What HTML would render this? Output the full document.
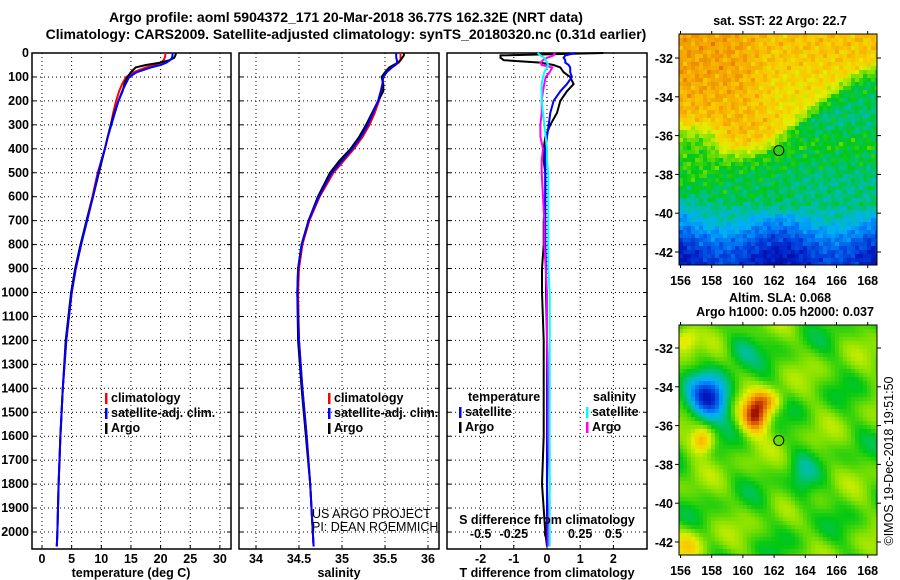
<!DOCTYPE html>
<html><head><meta charset="utf-8"><style>
html,body{margin:0;padding:0;background:#fff;width:900px;height:580px;overflow:hidden}
svg text{font-family:"Liberation Sans",sans-serif;font-weight:bold;font-size:12.5px;fill:#000}
</style></head><body>
<svg id="chart" width="900" height="580" xmlns="http://www.w3.org/2000/svg"></svg>
<script>
// ---- data arrays ----
const depthTicks=[0,100,200,300,400,500,600,700,800,900,1000,1100,1200,1300,1400,1500,1600,1700,1800,1900,2000];
const tempTicks=[0,5,10,15,20,25,30];
const salTicks=[34,34.5,35,35.5,36];
const salTickLabels=["34","34.5","35","35.5","36"];
const tdTicks=[-2,-1,0,1,2];
const sdTicks=[-0.5,-0.25,0,0.25,0.5];
const sdTickLabels=["-0.5","-0.25","0","0.25","0.5"];
const depths=[0,10,20,30,40,50,60,80,100,130,160,200,250,300,350,400,450,500,600,700,800,900,1000,1200,1400,1600,1800,2000,2060];
const tempArgo=[22.6,22.5,22.3,21.5,20,17.5,15.8,15,14.4,13.9,13.6,12.9,12.2,11.6,11.1,10.6,10.1,9.6,8.6,7.5,6.5,5.6,4.9,4,3.5,3.1,2.8,2.6,2.5];
const tempClim=[20.8,20.8,20.7,20.5,20,19,17.5,15.5,14.2,13.5,13,12.5,12,11.6,11.1,10.6,10,9.4,8.5,7.5,6.6,5.7,5,4.1,3.5,3.1,2.8,2.6,2.5];
const tempSat=[22,22,21.9,21.6,21,20,18.4,16,14.7,14.1,13.5,12.9,12.3,11.7,11.1,10.6,10,9.5,8.6,7.6,6.6,5.7,5,4.1,3.5,3.1,2.8,2.6,2.5];
const salArgo=[35.72,35.72,35.7,35.68,35.65,35.6,35.55,35.5,35.46,35.48,35.48,35.42,35.35,35.28,35.2,35.1,34.97,34.86,34.72,34.61,34.53,34.49,34.48,34.49,34.53,34.58,34.63,34.66,34.67];
const salClim=[35.68,35.68,35.68,35.68,35.66,35.62,35.58,35.52,35.48,35.47,35.46,35.43,35.38,35.32,35.24,35.14,35.02,34.9,34.74,34.62,34.54,34.5,34.49,34.5,34.54,34.59,34.63,34.66,34.67];
const salSat=[35.63,35.63,35.63,35.64,35.64,35.62,35.58,35.52,35.48,35.47,35.45,35.42,35.36,35.3,35.22,35.12,35,34.88,34.73,34.61,34.53,34.49,34.48,34.5,34.54,34.59,34.63,34.66,34.67];
const tdArgo=[1.7,-1.4,-1.4,-1.3,-0.2,0.2,0.4,0.5,0.7,0.8,0.6,0.4,0.3,0.1,-0.05,-0.1,-0.1,-0.05,-0.05,-0.1,-0.1,-0.15,-0.15,-0.1,-0.1,-0.1,-0.15,-0.05,0];
const tdSat=[0.85,0.55,0.5,0.55,0.55,0.65,0.7,0.7,0.75,0.6,0.4,0.2,0.1,0.05,0,-0.05,-0.05,-0.05,-0.05,-0.05,-0.05,-0.03,-0.03,0,0,0,0,0,0];
const sdArgo=[0.06,0.05,0.0,-0.03,-0.05,-0.04,0.04,0.02,-0.01,-0.02,-0.03,-0.04,-0.04,-0.05,-0.05,-0.03,-0.04,-0.04,-0.03,-0.02,-0.02,-0.01,0,0,0.01,0.01,0.02,0.01,0.01];
const sdSat=[-0.07,-0.05,-0.02,-0.01,0,0.01,0.0,-0.02,-0.03,-0.04,-0.04,-0.04,-0.03,-0.02,-0.01,0,0,0.01,0.01,0.01,0.01,0.01,0.02,0.02,0.02,0.02,0.02,0.02,0.02];
const lonTicks=[156,158,160,162,164,166,168];
const latTicks=[-32,-34,-36,-38,-40,-42];
const argoLon=162.3, argoLat=-36.77;

// ---- helpers ----
const S=document.getElementById('chart');
const NS='http://www.w3.org/2000/svg';
function el(t,a,p){const e=document.createElementNS(NS,t);for(const k in a)e.setAttribute(k,a[k]);(p||S).appendChild(e);return e;}
function txt(x,y,s,anchor,p){const e=el('text',{x:x,y:y,'text-anchor':anchor||'middle'},p);e.textContent=s;return e;}
const Y=d=>53+d*0.2395;
const TOP=53,BOT=549;
const xT=v=>42+v*5.93;
const xS=v=>256+(v-34)*86;
const xTD=v=>547+v*33.2;
const xSD=v=>547+v*132.8;

function panel(x0,x1,name,xticks,xf,labels){
  const g=el('g',{});
  
  
  el('rect',{x:x0,y:TOP,width:x1-x0,height:BOT-TOP,fill:'#fff',stroke:'#000','stroke-width':1.5},g);
  depthTicks.forEach(d=>{el('line',{x1:x0,x2:x1,y1:Y(d),y2:Y(d),stroke:'#000','stroke-dasharray':'1,3','stroke-width':1},g);
    el('line',{x1:x0,x2:x0+4,y1:Y(d),y2:Y(d),stroke:'#000'},g);el('line',{x1:x1-4,x2:x1,y1:Y(d),y2:Y(d),stroke:'#000'},g);});
  xticks.forEach((v,i)=>{const x=xf(v);el('line',{x1:x,x2:x,y1:TOP,y2:BOT,stroke:'#000','stroke-dasharray':'1,3'},g);
    el('line',{x1:x,x2:x,y1:BOT-4,y2:BOT,stroke:'#000'},g);
    if(labels){const t=txt(x,563,labels[i],'middle',g);}});
  return g;
}
function line(xs,xf,col,name,p,w){
  const pts=depths.map((d,i)=>xf(xs[i]).toFixed(1)+','+Y(d).toFixed(1)).join(' ');
  const e=el('polyline',{points:pts,fill:'none',stroke:col,'stroke-width':w||2},p);
  
}

const t1=txt(346,22,'Argo profile: aoml 5904372_171 20-Mar-2018 36.77S 162.32E (NRT data)');t1.style.fontSize='14px';
const t2=txt(346,39,'Climatology: CARS2009. Satellite-adjusted climatology: synTS_20180320.nc (0.31d earlier)');t2.style.fontSize='14px';

depthTicks.forEach(d=>{const t=txt(29,Y(d)+4,String(d),'end');});

const p1=panel(32,231,'temperature-panel',tempTicks,xT,tempTicks.map(String));
line(tempClim,xT,'#f00','temp-climatology-line',p1);
line(tempArgo,xT,'#000','temp-argo-line',p1);
line(tempSat,xT,'#00f','temp-satellite-line',p1);
let a=txt(131,577,'temperature (deg C)');
function legend(p,x,y,items){items.forEach((it,i)=>{el('rect',{x:x,y:y+i*15-9,width:2.5,height:11,fill:it[0]},p);const t=txt(x+6,y+i*15,it[1],'start',p);});}
legend(p1,105,402,[['#f00','climatology'],['#00f','satellite-adj. clim.'],['#000','Argo']]);

const p2=panel(239,439,'salinity-panel',salTicks,xS,salTickLabels);
line(salClim,xS,'#f00','sal-climatology-line',p2);
line(salArgo,xS,'#000','sal-argo-line',p2);
line(salSat,xS,'#00f','sal-satellite-line',p2);
a=txt(339,577,'salinity');
legend(p2,328,402,[['#f00','climatology'],['#00f','satellite-adj. clim.'],['#000','Argo']]);
const c1=txt(312,518,'US ARGO PROJECT','start',p2);c1.style.fontWeight='normal';
const c2=txt(312,531,'PI: DEAN ROEMMICH','start',p2);c2.style.fontWeight='normal';

const p3=panel(447,647,'difference-panel',tdTicks,xTD,tdTicks.map(String));
sdTicks.forEach((v,i)=>{const t=txt(xSD(v),538,sdTickLabels[i],'middle',p3);});
line(tdArgo,xTD,'#000','t-diff-argo-line',p3);
line(tdSat,xTD,'#00f','t-diff-satellite-line',p3);
line(sdArgo,xSD,'#f0f','s-diff-argo-line',p3);
line(sdSat,xSD,'#0ff','s-diff-satellite-line',p3);
a=txt(547,524,'S difference from climatology',"middle",p3);
a=txt(547,577,'T difference from climatology');
a=txt(468,401,'temperature','start',p3);
a=txt(593,401,'salinity','start',p3);
legend(p3,459,416,[['#00f','satellite'],['#000','Argo']]);
legend(p3,586,416,[['#0ff','satellite'],['#f0f','Argo']]);

// ---- maps ----
const cmStops=[[0,[0,0,130]],[0.12,[0,30,200]],[0.24,[0,110,240]],[0.33,[0,175,250]],[0.42,[0,190,160]],[0.5,[0,200,20]],[0.58,[130,225,0]],[0.66,[225,240,0]],[0.74,[250,200,0]],[0.82,[240,150,0]],[0.9,[220,90,0]],[1,[150,0,0]]];
function cmap(v){v=Math.max(0,Math.min(1,v));
  for(let i=1;i<cmStops.length;i++){if(v<=cmStops[i][0]){const a=cmStops[i-1],b=cmStops[i],t=(v-a[0])/(b[0]-a[0]);
    return 'rgb('+a[1].map((c,k)=>Math.round(c+(b[1][k]-c)*t)).join(',')+')';}}
  return 'rgb(150,0,0)';}
const MX0=679,MX1=877;
const lonX=l=>680.5+(l-156)*15.6;
const sig=(x,w)=>1/(1+Math.exp(-x/w));
function tex(lon,lat){return 0.018*Math.sin(lon*7.3+lat*3.1)+0.015*Math.sin(lon*2.9-lat*8.7)+0.012*Math.sin(lon*13.1+lat*11.3)+0.01*Math.sin(lon*5.7+lat*17.9);}
function sstField(lon,lat){
  let v=0.12+0.22*sig(lat+41.2,0.5)+0.12*sig(lat+39.6,0.3)+0.06*sig(lat+38,0.4)+0.2*sig(lat+36.9,0.25)+0.03*sig(lat+34,0.6);
  const east=sig(lon-(167+1.5*(lat+33)),0.35)*sig(-32.6-lat,0.3)*sig(lat+39.5,0.5);
  v=v*(1-east)+(0.49+0.02*Math.sin(lat*2))*east;
  if(lat<-36.8 && lat>-39.5) v-=0.03*sig(lon-163,0.5);
  const west=sig(158.3-lon,0.3)*sig(lat+38.5,0.3)*sig(-35.6-lat,0.25);
  v=v*(1-west)+0.52*west;
  v+=0.05*sig(160.5-lon,0.5)*sig(lat+34.3,0.4);
  v+=0.04*sig(162-lon,0.5)*sig(lat+36.4,0.3)*sig(-34.5-lat,0.3);
  v-=0.04*sig(lon-161.5,0.5)*sig(lat+35.3,0.4)*sig(-32.3-lat,0.4);
  if(lat<-40) v-=0.05*Math.sin(lon*0.9);
  return v+tex(lon,lat)*1.3;}
function g2(lon,lat,l0,la0,sx,sy){const d=(lon-l0)**2/(2*sx*sx)+(lat-la0)**2/(2*sy*sy);return Math.exp(-d);}
function slaField(lon,lat){
  let v=0.55+0.035*Math.sin(lon*1.4+lat*0.8)+0.035*Math.sin(lat*1.9-lon*0.6)+0.02*Math.sin(lon*2.3+lat*2.7);
  v-=0.42*g2(lon,lat,157.8,-34.6,0.9,0.75);
  v-=0.1*g2(lon,lat,159.8,-32,0.8,0.6);
  v+=0.42*g2(lon,lat,160.8,-35.5,0.6,0.6);
  v+=0.2*g2(lon,lat,161.5,-34.7,0.7,0.4);
  v+=0.24*g2(lon,lat,157.4,-36.8,0.5,0.45);
  v+=0.18*g2(lon,lat,156.3,-31.5,0.6,0.5);
  v+=0.14*g2(lon,lat,156.5,-42.2,0.7,0.6);
  v-=0.08*g2(lon,lat,163.8,-39,0.6,1.2);
  return v;}
function map(y0,y1,latY,field,name,step){
  const g=el('g',{});
  
  
  const latAt=y=>-32-(y-latY)/19.4, lonAt=x=>156+(x-680.5)/15.6;
  for(let y=y0;y<y1;y+=step)for(let x=MX0;x<MX1;x+=step){
    el('rect',{x:x,y:y,width:Math.min(step+0.4,MX1-x),height:Math.min(step+0.4,y1-y),fill:cmap(field(lonAt(x+step/2),latAt(y+step/2)))},g);}
  el('rect',{x:MX0,y:y0,width:MX1-MX0,height:y1-y0,fill:'none',stroke:'#000'},g);
  latTicks.forEach(l=>{const y=latY+(-32-l)*19.4;el('line',{x1:MX0-4,x2:MX0,y1:y,y2:y,stroke:'#000'},g);el('line',{x1:MX1,x2:MX1+4,y1:y,y2:y,stroke:'#000'},g);
    const t=txt(MX0-6,y+5,String(l),'end',g);});
  lonTicks.forEach(l=>{const x=lonX(l);el('line',{x1:x,x2:x,y1:y1,y2:y1+3,stroke:'#000'},g);el('line',{x1:x,x2:x,y1:y0-3,y2:y0,stroke:'#000'},g);
    const t=txt(x,y1+20,String(l),'middle',g);});
  const m=el('circle',{cx:lonX(argoLon),cy:latY+(-32-argoLat)*19.4,r:5,fill:cmap(field(argoLon,argoLat)),stroke:'#000'},g);
  
  return g;}
a=txt(780,25,'sat. SST: 22 Argo: 22.7');
map(34,265,58,sstField,'sst-map',4);
a=txt(780,302,'Altim. SLA: 0.068');
a=txt(785,316,'Argo h1000: 0.05 h2000: 0.037');
map(325,555,348,slaField,'sla-map',4);
a=txt(0,0,'©IMOS 19-Dec-2018 19:51:50','middle');a.setAttribute('transform','translate(893,461) rotate(-90)');a.style.fontWeight='normal';
</script>
</body></html>
